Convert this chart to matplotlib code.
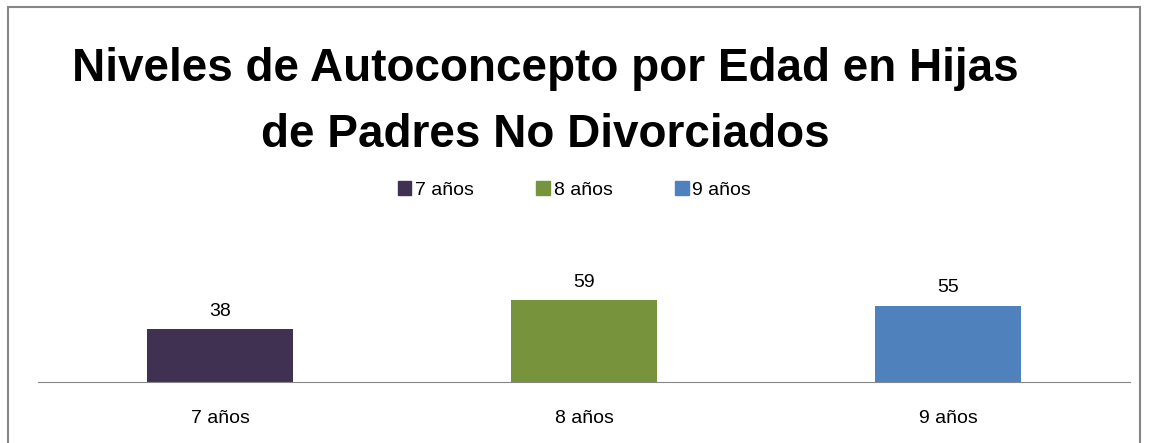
import matplotlib
matplotlib.use("Agg")
import matplotlib.pyplot as plt
from matplotlib.patches import Rectangle, Patch

plt.rcParams['font.family'] = ['Liberation Sans', 'DejaVu Sans']

categories = ["7 años", "8 años", "9 años"]
values = [38, 59, 55]
colors = ["#403152", "#77933C", "#4F81BD"]
title = "Niveles de Autoconcepto por Edad en Hijas\nde Padres No Divorciados"

fig = plt.figure(figsize=(11.49, 4.43), dpi=100)
ax = fig.add_axes([38/1149, 1 - 382/443, 1092/1149, 97/443])
x = range(len(categories))
bars = ax.bar(x, values, width=0.4, color=colors)
ax.set_xlim(-0.5, 2.5)
ax.set_ylim(0, 70)
for b, v in zip(bars, values):
    ax.annotate(str(v), (b.get_x() + b.get_width()/2, v), xytext=(0, 7),
                textcoords="offset points", ha="center", va="bottom", fontsize=14)
ax.set_xticks(list(x))
ax.set_xticklabels(categories, fontsize=14)
ax.tick_params(axis="x", length=0, pad=20)
ax.set_yticks([])
for s in ["top", "right", "left"]:
    ax.spines[s].set_visible(False)
ax.spines["bottom"].set_color("#868686")

fig.text(0.475, 1 - 102/443, title, ha="center", va="center", fontsize=33,
         fontweight="bold", linespacing=1.65)
handles = [Patch(color=c) for c in colors]
fig.legend(handles, categories, loc="center", bbox_to_anchor=(0.5, 1 - 190/443),
           ncol=3, frameon=False, fontsize=14, handlelength=0.7, handleheight=0.7,
           handletextpad=0.2, columnspacing=3.2)

fig.patches.append(Rectangle((8/1149, -0.05), 1132/1149, 1 - 7/443 + 0.05,
                             transform=fig.transFigure, fill=False,
                             edgecolor="#868686", linewidth=1.5))
fig.savefig("out.png", dpi=100)
